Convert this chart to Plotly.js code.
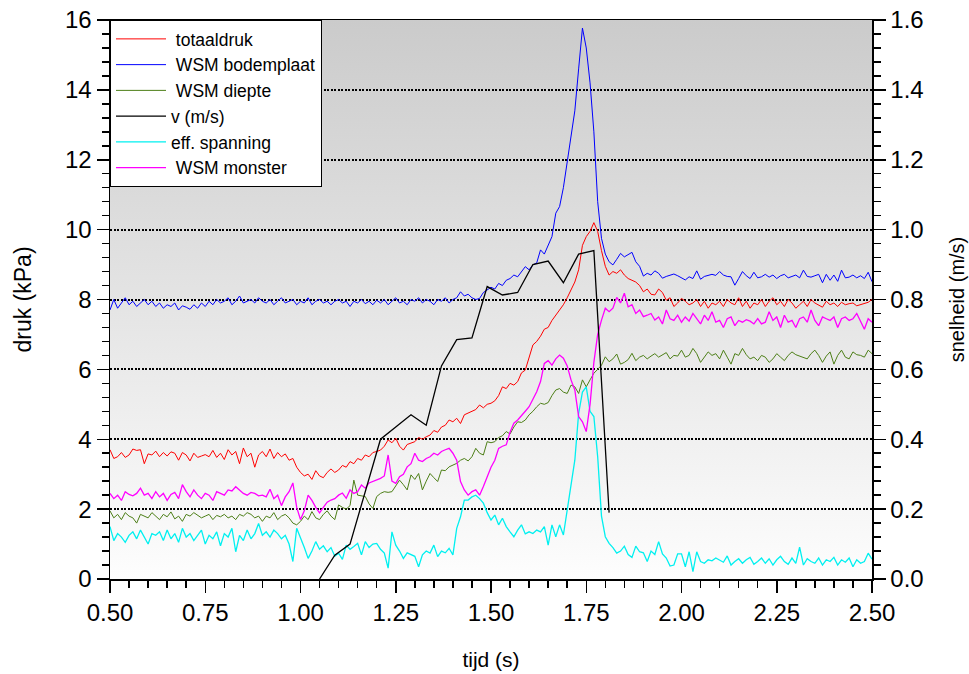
<!DOCTYPE html>
<html>
<head>
<meta charset="utf-8">
<script src="https://cdn.plot.ly/plotly-3.0.1.min.js"></script>
<style>
  html, body { margin: 0; padding: 0; background: #ffffff; }
  #chart { width: 969px; height: 674px; }
</style>
</head>
<body>
<div id="chart"></div>
<script>
// Sampling: first sample at t = 0.50 s, one sample every 0.01 s (201 samples, up to 2.50 s)
const sampleStart = 0.5;
const sampleStep = 0.01;

// totaaldruk (kPa)
const totaaldruk = [
  3.70,3.45,3.50,3.62,3.48,3.55,3.72,3.68,3.70,3.30,
  3.58,3.55,3.66,3.50,3.62,3.52,3.64,3.60,3.40,3.62,
  3.55,3.38,3.60,3.48,3.52,3.56,3.50,3.68,3.48,3.60,
  3.42,3.70,3.55,3.65,3.30,3.75,3.50,3.60,3.20,3.55,
  3.65,3.50,3.72,3.45,3.62,3.50,3.58,3.40,3.45,3.20,
  3.05,2.95,3.00,2.85,3.10,2.95,2.90,3.05,3.15,3.05,
  3.12,3.25,3.20,3.36,3.30,3.45,3.40,3.55,3.50,3.62,
  3.65,3.69,3.80,3.98,3.90,4.03,3.80,3.69,3.85,3.90,
  3.93,4.05,4.00,4.07,4.12,4.25,4.20,4.35,4.40,4.55,
  4.50,4.60,4.45,4.70,4.75,4.79,4.85,4.98,4.90,5.00,
  5.03,5.10,5.25,5.50,5.45,5.60,5.55,5.65,5.90,5.98,
  6.35,6.70,6.80,6.95,7.15,7.20,7.40,7.55,7.70,7.85,
  8.05,8.27,8.50,8.85,9.55,9.80,9.95,10.20,9.95,9.40,
  8.95,8.70,8.80,8.75,8.85,8.70,8.60,8.55,8.50,8.40,
  8.22,8.30,8.15,8.13,8.30,8.20,7.98,8.05,7.80,7.90,
  8.03,7.95,7.85,7.90,8.00,7.80,7.95,7.75,7.90,7.85,
  7.95,7.80,8.00,7.90,7.85,8.05,7.80,7.95,7.75,7.90,
  7.85,8.00,7.80,7.95,8.05,7.85,7.95,7.80,8.00,7.90,
  7.75,7.85,7.95,7.80,8.00,7.90,7.85,7.78,7.95,7.85,
  7.90,7.80,7.92,7.85,7.88,7.90,7.82,7.86,7.88,7.92,
  8.00
];

// WSM bodemplaat (kPa)
const wsmBodemplaat = [
  7.70,8.00,7.75,7.90,8.05,7.85,7.95,7.80,7.90,8.00,
  7.85,7.95,7.80,7.90,7.75,7.85,7.80,7.90,7.70,7.82,
  7.78,7.72,7.85,7.75,7.90,7.80,7.95,7.85,8.00,7.90,
  7.95,8.05,7.85,7.95,8.10,7.90,7.95,8.00,7.90,8.05,
  7.95,7.90,8.00,7.85,7.95,8.05,7.90,7.95,8.00,7.85,
  7.95,7.90,8.05,7.85,7.95,8.00,7.90,7.95,7.85,7.95,
  8.00,7.90,7.95,7.80,7.95,7.90,8.00,7.88,7.95,7.85,
  7.98,7.90,8.00,7.85,7.95,8.05,7.90,7.95,7.85,8.00,
  7.95,8.05,7.90,8.00,7.95,7.85,8.00,7.95,8.05,7.90,
  8.00,8.05,8.22,8.10,8.15,8.05,8.00,8.03,8.20,8.27,
  8.35,8.30,8.46,8.40,8.55,8.60,8.70,8.65,8.80,8.94,
  8.85,8.99,9.05,9.42,9.30,9.55,9.80,10.47,10.66,11.20,
  11.90,12.60,13.40,14.60,15.77,15.20,14.20,12.80,10.80,9.75,
  9.30,9.08,8.99,9.15,9.32,9.22,9.28,9.35,9.08,8.95,
  8.67,8.75,8.70,8.82,8.75,8.61,8.66,8.70,8.73,8.68,
  8.62,8.56,8.65,8.60,8.82,8.58,8.66,8.70,8.72,8.69,
  8.80,8.70,8.66,8.65,8.41,8.60,8.80,8.68,8.60,8.78,
  8.62,8.65,8.72,8.64,8.70,8.60,8.68,8.72,8.62,8.66,
  8.70,8.62,8.84,8.66,8.64,8.68,8.72,8.48,8.72,8.55,
  8.70,8.52,8.84,8.62,8.64,8.70,8.62,8.68,8.60,8.78,
  8.51
];

// WSM diepte (kPa)
const wsmDiepte = [
  1.95,1.75,1.85,1.70,1.90,1.80,1.75,1.60,1.85,1.80,
  1.75,1.90,1.80,1.70,1.85,1.78,1.92,1.72,1.80,1.65,
  1.85,1.80,1.90,1.82,1.75,1.80,1.85,1.70,1.82,1.78,
  1.85,1.75,1.80,1.70,1.85,1.80,1.90,1.85,1.75,1.80,
  1.65,1.80,1.75,1.90,1.70,1.80,1.85,1.75,1.60,1.55,
  1.65,1.80,1.70,1.93,1.75,1.70,1.85,1.95,1.80,1.70,
  2.12,2.05,2.00,2.10,2.83,2.40,2.38,2.36,2.15,2.02,
  2.36,2.45,2.50,2.48,2.50,2.65,2.83,2.70,2.55,2.98,
  2.85,3.02,2.55,2.80,3.02,2.90,2.79,3.12,3.10,3.21,
  3.25,3.31,3.40,3.45,3.38,3.50,3.74,3.60,3.55,3.93,
  3.90,3.93,4.05,4.10,4.22,4.15,4.35,4.50,4.48,4.55,
  4.70,4.80,4.93,5.03,5.00,5.05,5.25,5.41,5.45,5.35,
  5.31,5.55,5.50,5.31,5.70,5.50,5.70,5.89,6.00,6.12,
  6.36,6.22,6.30,6.44,6.15,6.20,6.28,6.46,6.25,6.35,
  6.40,6.30,6.38,6.45,6.35,6.42,6.48,6.30,6.40,6.38,
  6.55,6.35,6.40,6.60,6.45,6.20,6.35,6.50,6.40,6.45,
  6.30,6.55,6.35,6.15,6.45,6.40,6.60,6.42,6.30,6.35,
  6.25,6.40,6.35,6.20,6.30,6.45,6.35,6.25,6.40,6.50,
  6.42,6.38,6.35,6.30,6.45,6.55,6.40,6.20,6.38,6.50,
  6.15,6.40,6.55,6.35,6.30,6.50,6.42,6.40,6.35,6.55,
  6.45
];

// eff. spanning (kPa)
const effSpanning = [
  1.50,1.10,1.30,1.20,1.05,1.25,1.35,1.15,1.40,1.20,
  1.00,1.30,1.25,1.35,1.10,1.40,1.15,1.30,1.05,1.45,
  1.20,1.30,1.10,1.25,1.40,1.00,1.25,1.15,1.35,0.95,
  1.30,1.20,1.45,0.78,1.25,1.10,1.40,1.15,1.30,1.59,
  1.25,1.35,1.20,1.40,1.30,1.15,1.25,1.00,0.50,1.45,
  1.20,0.90,0.59,0.80,1.07,0.85,0.95,0.78,0.90,0.65,
  0.74,0.56,0.97,0.85,0.93,1.02,0.69,1.07,0.90,1.00,
  1.02,0.85,0.74,0.31,1.35,0.97,0.80,0.59,0.75,0.70,
  0.65,0.35,0.69,0.80,0.74,0.97,0.64,0.80,0.75,0.88,
  0.69,1.45,1.78,2.26,2.26,2.35,2.40,2.30,2.17,1.90,
  1.69,1.83,1.55,1.74,1.50,1.35,1.21,1.40,1.55,1.29,
  1.35,1.30,1.40,1.35,1.50,0.97,1.55,1.21,1.55,1.26,
  2.00,2.60,3.40,4.74,5.35,5.50,4.80,4.65,3.50,1.80,
  1.21,1.02,0.90,0.74,0.80,0.94,0.70,0.62,0.94,0.78,
  0.75,0.50,0.80,0.70,1.07,0.72,0.60,0.37,0.40,0.72,
  0.72,0.35,0.78,0.21,0.78,0.50,0.45,0.55,0.52,0.60,
  0.55,0.48,0.66,0.40,0.50,0.58,0.45,0.55,0.62,0.42,
  0.50,0.60,0.45,0.58,0.40,0.55,0.65,0.50,0.42,0.60,
  0.45,0.91,0.40,0.58,0.50,0.45,0.60,0.40,0.55,0.50,
  0.62,0.40,0.55,0.48,0.60,0.35,0.55,0.45,0.50,0.74,
  0.57
];

// WSM monster (kPa)
const wsmMonster = [
  2.45,2.30,2.40,2.25,2.50,2.42,2.38,2.45,2.60,2.40,
  2.45,2.30,2.50,2.35,2.45,2.25,2.42,2.48,2.30,2.70,
  2.50,2.35,2.55,2.40,2.30,2.45,2.40,2.25,2.50,2.45,
  2.40,2.55,2.52,2.64,2.55,2.45,2.40,2.48,2.45,2.38,
  2.40,2.35,2.57,2.30,2.40,2.10,2.35,2.50,2.75,2.05,
  1.70,1.95,2.40,2.25,2.05,1.89,2.05,2.20,2.26,2.30,
  2.40,2.46,2.31,2.55,2.45,2.50,2.69,2.60,2.75,2.79,
  2.85,2.88,2.95,3.55,2.80,2.74,2.93,3.00,3.21,3.30,
  3.60,3.40,3.36,3.45,3.50,3.60,3.55,3.65,3.70,3.74,
  3.60,3.40,2.79,2.55,2.40,2.50,2.55,2.40,2.65,2.93,
  3.20,3.40,3.74,3.80,3.84,4.20,4.46,4.55,4.69,4.80,
  4.93,5.15,5.36,5.65,6.17,6.25,6.12,6.30,6.41,6.32,
  6.10,5.70,5.41,4.65,4.50,4.22,5.00,6.20,7.00,7.41,
  7.75,7.65,7.75,8.06,7.90,8.18,7.79,7.85,7.60,7.70,
  7.51,7.55,7.60,7.41,7.50,7.30,7.70,7.45,7.40,7.55,
  7.35,7.50,7.38,7.60,7.45,7.30,7.55,7.40,7.65,7.35,
  7.40,7.20,7.45,7.50,7.25,7.40,7.35,7.42,7.38,7.30,
  7.45,7.30,7.35,7.65,7.40,7.50,7.20,7.55,7.35,7.40,
  7.20,7.45,7.50,7.35,7.70,7.40,7.25,7.50,7.45,7.40,
  7.50,7.20,7.45,7.50,7.40,7.45,7.60,7.35,7.15,7.45,
  7.35
];

// v (m/s) - coarse samples
const vTijd = [1.05,1.09,1.13,1.17,1.21,1.25,1.29,1.33,1.37,1.41,1.45,1.49,1.53,1.57,1.61,1.65,1.69,1.73,1.77,1.81];
const vSnelheid = [0.0,0.068,0.10,0.25,0.40,0.435,0.47,0.44,0.61,0.685,0.69,0.837,0.813,0.82,0.90,0.91,0.848,0.93,0.94,0.19];

// Axis tick labels
const xTickVals = [0.5,0.75,1.0,1.25,1.5,1.75,2.0,2.25,2.5];
const xTickText = ['0.50','0.75','1.00','1.25','1.50','1.75','2.00','2.25','2.50'];

const FONT = 'Liberation Sans, Arial, sans-serif';

function series(name, values, color, width) {
  return {
    type: 'scatter', mode: 'lines', name: name,
    x0: sampleStart, dx: sampleStep, y: values,
    line: { color: color, width: width },
    hoverinfo: 'skip'
  };
}

const traces = [
  series(' totaaldruk', totaaldruk, '#ff0000', 1),
  series(' WSM bodemplaat', wsmBodemplaat, '#0000ff', 1),
  series(' WSM diepte', wsmDiepte, '#4d7f17', 1),
  { type: 'scatter', mode: 'lines', name: 'v (m/s)', x: vTijd, y: vSnelheid,
    yaxis: 'y2', line: { color: '#000000', width: 1.3 }, hoverinfo: 'skip' },
  series('eff. spanning', effSpanning, '#00f0f0', 1.3),
  series(' WSM monster', wsmMonster, '#ff00ff', 1.3)
];

const gradSvg = '<svg xmlns="http://www.w3.org/2000/svg" width="10" height="100" preserveAspectRatio="none">' +
  '<defs><linearGradient id="g" x1="0" y1="0" x2="0" y2="1">' +
  '<stop offset="0" stop-color="#cbcbcb"/><stop offset="1" stop-color="#fdfdfd"/>' +
  '</linearGradient></defs><rect width="10" height="100" fill="url(#g)"/></svg>';

const layout = {
  width: 969, height: 674,
  margin: { l: 110, r: 97, t: 20, b: 95, pad: 0 },
  paper_bgcolor: '#ffffff',
  plot_bgcolor: 'rgba(0,0,0,0)',
  font: { family: FONT, size: 24, color: '#000000' },
  showlegend: true,
  images: [{
    source: 'data:image/svg+xml;charset=utf-8,' + encodeURIComponent(gradSvg),
    xref: 'paper', yref: 'paper', x: 0, y: 1, sizex: 1, sizey: 1,
    xanchor: 'left', yanchor: 'top', sizing: 'stretch', layer: 'below'
  }],
  legend: {
    x: 0, y: 1, xanchor: 'left', yanchor: 'top',
    bgcolor: '#ffffff', bordercolor: '#000000', borderwidth: 1,
    font: { family: FONT, size: 17.5, color: '#000000' },
    traceorder: 'normal',
    itemwidth: 50,
    entrywidth: 172, entrywidthmode: 'pixels'
  },
  xaxis: {
    range: [0.5, 2.5],
    tickmode: 'array', tickvals: xTickVals, ticktext: xTickText,
    ticks: 'outside', ticklen: 12, tickwidth: 1.5, tickcolor: '#000000',
    minor: { dtick: 0.05, ticks: 'outside', ticklen: 7, tickwidth: 1.5, tickcolor: '#000000', showgrid: false },
    showline: true, linecolor: '#000000', linewidth: 1.5, mirror: true,
    showgrid: false, zeroline: false,
    tickfont: { family: FONT, size: 24, color: '#000000' },
    title: { text: 'tijd (s)', font: { family: FONT, size: 21, color: '#000000' }, standoff: 27 }
  },
  yaxis: {
    range: [0, 16], dtick: 2, tick0: 0,
    ticks: 'outside', ticklen: 12, tickwidth: 1.5, tickcolor: '#000000',
    minor: { dtick: 0.4, ticks: 'outside', ticklen: 7, tickwidth: 1.5, tickcolor: '#000000', showgrid: false },
    showline: true, linecolor: '#000000', linewidth: 1.5,
    showgrid: true, gridcolor: '#000000', gridwidth: 2, griddash: '2px,1.5px',
    zeroline: false,
    tickfont: { family: FONT, size: 24, color: '#000000' },
    title: { text: 'druk (kPa)', font: { family: FONT, size: 23, color: '#000000' }, standoff: 27 }
  },
  yaxis2: {
    range: [0, 1.6], dtick: 0.2, tick0: 0, tickformat: '.1f',
    overlaying: 'y', side: 'right',
    ticks: 'outside', ticklen: 12, tickwidth: 1.5, tickcolor: '#000000',
    minor: { dtick: 0.04, ticks: 'outside', ticklen: 7, tickwidth: 1.5, tickcolor: '#000000', showgrid: false },
    showline: true, linecolor: '#000000', linewidth: 1.5,
    showgrid: false, zeroline: false,
    tickfont: { family: FONT, size: 24, color: '#000000' },
    title: { text: 'snelheid (m/s)', font: { family: FONT, size: 20, color: '#000000' }, standoff: 27 }
  }
};

Plotly.newPlot('chart', traces, layout, { staticPlot: true, displayModeBar: false });
</script>
</body>
</html>
